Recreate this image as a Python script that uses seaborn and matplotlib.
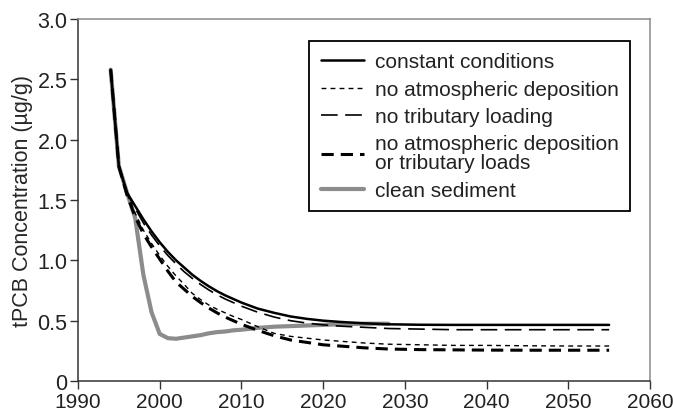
import matplotlib
matplotlib.use("Agg")
import matplotlib.pyplot as plt
import seaborn as sns
import pandas as pd

# ---- data ----
years = [1994, 1995, 1996, 1997, 1998, 1999, 2000, 2001, 2002, 2003, 2004, 2005,
         2006, 2007, 2008, 2009, 2010, 2012, 2014, 2016, 2018, 2020, 2022, 2025,
         2028, 2032, 2036, 2040, 2045, 2050, 2055]

constant_conditions = [2.58, 1.78, 1.56, 1.45, 1.34, 1.24, 1.15, 1.07, 1.00, 0.94, 0.88, 0.83,
                       0.785, 0.745, 0.71, 0.68, 0.65, 0.60, 0.565, 0.535, 0.515, 0.50, 0.49, 0.478,
                       0.47, 0.466, 0.465, 0.465, 0.465, 0.465, 0.465]

no_atm_deposition = [2.58, 1.78, 1.55, 1.39, 1.25, 1.14, 1.04, 0.95, 0.87, 0.80, 0.725, 0.675,
                     0.63, 0.595, 0.565, 0.535, 0.51, 0.45, 0.395, 0.37, 0.355, 0.34, 0.33, 0.315,
                     0.305, 0.30, 0.295, 0.295, 0.292, 0.29, 0.29]

no_trib_loading = [2.58, 1.78, 1.56, 1.43, 1.31, 1.21, 1.12, 1.04, 0.97, 0.905, 0.85, 0.80,
                   0.755, 0.715, 0.68, 0.65, 0.62, 0.57, 0.53, 0.50, 0.48, 0.465, 0.455, 0.445,
                   0.435, 0.43, 0.425, 0.425, 0.425, 0.425, 0.425]

no_atm_or_trib = [2.58, 1.78, 1.54, 1.36, 1.22, 1.11, 1.01, 0.91, 0.82, 0.76, 0.70, 0.65,
                  0.605, 0.565, 0.53, 0.50, 0.47, 0.42, 0.375, 0.34, 0.32, 0.30, 0.29, 0.275,
                  0.265, 0.26, 0.258, 0.256, 0.255, 0.255, 0.255]

clean_years = [1994, 1995, 1996, 1997, 1998, 1999, 2000, 2001, 2002, 2003, 2004, 2005,
               2006, 2007, 2008, 2009, 2010, 2012, 2014, 2016, 2018, 2020, 2022, 2025, 2028]
clean_sediment = [2.58, 1.78, 1.56, 1.35, 0.88, 0.57, 0.39, 0.355, 0.35, 0.36, 0.37, 0.38,
                  0.395, 0.405, 0.41, 0.42, 0.425, 0.44, 0.45, 0.455, 0.46, 0.465, 0.47, 0.475, 0.475]

labels = ["constant conditions", "no atmospheric deposition", "no tributary loading",
          "no atmospheric deposition\nor tributary loads", "clean sediment"]

x_ticks = [1990, 2000, 2010, 2020, 2030, 2040, 2050, 2060]
y_ticks = [0, 0.5, 1.0, 1.5, 2.0, 2.5, 3.0]
y_tick_labels = ["0", "0.5", "1.0", "1.5", "2.0", "2.5", "3.0"]

# ---- style ----
sns.set_theme(style="white")
plt.rcParams["font.family"] = ["Liberation Sans", "DejaVu Sans"]

fig = plt.figure(figsize=(6.73, 4.14), dpi=100)
ax = fig.add_axes([78 / 673, 1 - 382 / 414, (650 - 78) / 673, (382 - 20) / 414])

series = [
    (clean_years, clean_sediment, labels[4], dict(color="#8c8c8c", linewidth=3.0, linestyle="-", zorder=1)),
    (years, no_atm_or_trib, labels[3], dict(color="black", linewidth=2.2, linestyle=(0, (4.0, 2.3)), zorder=2)),
    (years, no_atm_deposition, labels[1], dict(color="black", linewidth=1.0, linestyle=(0, (3.5, 3.0)), zorder=3)),
    (years, no_trib_loading, labels[2], dict(color="black", linewidth=1.2, linestyle=(0, (10, 4.5)), zorder=4)),
    (years, constant_conditions, labels[0], dict(color="black", linewidth=1.8, linestyle="-", zorder=5)),
]

for xs, ys, lab, kw in series:
    df = pd.DataFrame({"year": xs, "value": ys})
    sns.lineplot(data=df, x="year", y="value", ax=ax, label=lab, legend=False, **kw)

ax.set_xlim(1990, 2060)
ax.set_ylim(0, 3.0)
ax.set_xticks(x_ticks)
ax.set_yticks(y_ticks)
ax.set_yticklabels(y_tick_labels)
ax.set_xlabel("")
ax.set_ylabel("tPCB Concentration (µg/g)", fontsize=15.5, labelpad=3)
ax.tick_params(axis="both", labelsize=15.5, direction="out", length=6, width=1,
               colors="#333333", labelcolor="#222222", left=True, bottom=True, pad=1.5)
ax.tick_params(axis="x", labelsize=15, pad=2.0)

for side in ["left", "bottom"]:
    ax.spines[side].set_color("#333333")
    ax.spines[side].set_linewidth(1.1)
for side in ["top", "right"]:
    ax.spines[side].set_color("#8a8a8a")
    ax.spines[side].set_linewidth(1.1)

# legend in reference order
handles = {l.get_label(): l for l in ax.get_lines()}
h = [handles[l] for l in labels]
leg = ax.legend(h, labels, loc="upper right",
                bbox_to_anchor=(630 / 673, 1 - 42 / 414), bbox_transform=fig.transFigure,
                fontsize=15, frameon=True, fancybox=False, framealpha=1,
                edgecolor="black", handlelength=2.1, handletextpad=0.5,
                labelspacing=0.4, borderpad=0.55, borderaxespad=0)
leg.get_frame().set_linewidth(1.3)
for t in leg.get_texts():
    t.set_linespacing(1.0)
    t.set_color("#222222")

fig.savefig("out.png", dpi=100)
